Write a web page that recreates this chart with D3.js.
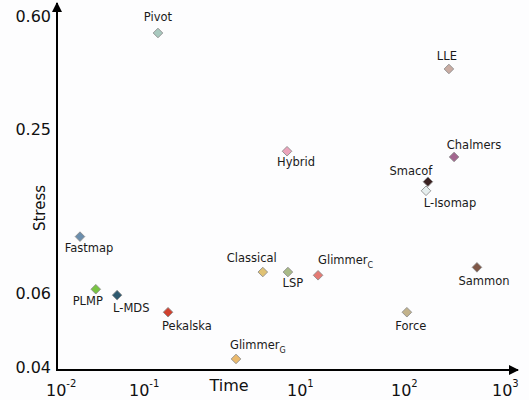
<!DOCTYPE html>
<html>
<head>
<meta charset="utf-8">
<script src="https://cdn.jsdelivr.net/npm/d3@7"></script>
<style>
  html, body { margin: 0; padding: 0; background: #fdfdfe; }
  svg { display: block; font-family: "DejaVu Sans", sans-serif; }
</style>
</head>
<body>
<svg id="chart" width="529" height="400"></svg>
<script>
// Projection techniques: running time (s) vs. stress
const methods = ["Pivot", "LLE", "Hybrid", "Chalmers", "Smacof", "L-Isomap", "Fastmap",
  "Classical", "LSP", "Glimmer_C", "Sammon", "PLMP", "L-MDS", "Pekalska", "Force", "Glimmer_G"];
const times = [0.179, 305, 7.7, 343, 189, 181, 0.020,
  3.8, 7.9, 16.3, 578, 0.031, 0.056, 0.24, 117, 1.74];
const stress = [0.526, 0.398, 0.206, 0.196, 0.158, 0.146, 0.098,
  0.072, 0.072, 0.070, 0.075, 0.062, 0.0593, 0.054, 0.054, 0.0418];

const xTicks = [0.01, 0.1, 10, 100, 1000];
const xTickExp = ["-2", "-1", "1", "2", "3"];
const yTicks = [0.04, 0.06, 0.25, 0.60];
const yTickLabels = ["0.04", "0.06", "0.25", "0.60"];

// marker fill per method
const fills = {
  "Pivot": "#a9c9bf", "LLE": "#c9aca3", "Hybrid": "#eba3bb", "Chalmers": "#a3668f",
  "Smacof": "#3b2222", "L-Isomap": "#e6eeee", "Fastmap": "#6b8ead",
  "Classical": "#e0c274", "LSP": "#a9ba88", "Glimmer_C": "#e47a74", "Sammon": "#7f5747",
  "PLMP": "#79c443", "L-MDS": "#2f5a70", "Pekalska": "#d0412f", "Force": "#c2b28b",
  "Glimmer_G": "#ebba6d"
};
// label placement relative to each marker: [dx, dy, anchor]
const labelPos = {
  "Pivot": [0, -12, "middle"], "LLE": [-2, -9, "middle"], "Hybrid": [9, 15, "middle"],
  "Chalmers": [20, -8, "middle"], "Smacof": [-17, -7, "middle"], "L-Isomap": [24, 16, "middle"],
  "Fastmap": [9, 15, "middle"], "Classical": [-11, -10, "middle"], "LSP": [5, 15, "middle"],
  "Glimmer_C": [0, -11, "start"], "Sammon": [7, 18, "middle"], "PLMP": [-8, 16, "middle"],
  "L-MDS": [-4, 17, "start"], "Pekalska": [-6, 18, "start"], "Force": [4, 18, "middle"],
  "Glimmer_G": [-6, -10, "start"]
};

const svg = d3.select("#chart");

const x = d3.scaleLog().domain(xTicks).range([55, 138, 296, 400, 501]);
const y = d3.scaleLog().domain(yTicks).range([367, 293, 129, 16]);

const x0 = 57, y0 = 370;

// arrow marker for axis ends
svg.append("defs").append("marker")
  .attr("id", "arrow").attr("viewBox", "0 0 10 10")
  .attr("refX", 9).attr("refY", 5)
  .attr("markerWidth", 5).attr("markerHeight", 5)
  .attr("markerUnits", "strokeWidth")
  .attr("orient", "auto")
  .append("path").attr("d", "M0,0 L10,5 L0,10 Z").attr("fill", "#000");

svg.append("line")
  .attr("x1", x0).attr("y1", y0).attr("x2", x0).attr("y2", 3)
  .attr("stroke", "#000").attr("stroke-width", 2).attr("marker-end", "url(#arrow)");
svg.append("line")
  .attr("x1", x0 - 1).attr("y1", y0).attr("x2", 518).attr("y2", y0)
  .attr("stroke", "#000").attr("stroke-width", 2).attr("marker-end", "url(#arrow)");

// y tick labels
svg.selectAll("text.ytick").data(yTicks).join("text")
  .attr("class", "ytick")
  .attr("x", 51).attr("y", d => y(d) + 6)
  .attr("text-anchor", "end").attr("font-size", 16).attr("fill", "#111")
  .text((d, i) => yTickLabels[i]);

// x tick labels: 10 with superscript exponent
const xt = svg.selectAll("text.xtick").data(xTicks).join("text")
  .attr("class", "xtick")
  .attr("x", d => x(d) - 9).attr("y", 396)
  .attr("font-size", 16).attr("fill", "#111");
xt.append("tspan").text("10");
xt.append("tspan").attr("dy", -9).attr("font-size", 10).text((d, i) => xTickExp[i]);

// axis titles
svg.append("text").attr("x", 229).attr("y", 391).attr("text-anchor", "middle")
  .attr("font-size", 16).attr("fill", "#111").text("Time");
svg.append("text").attr("transform", "translate(45,208) rotate(-90)")
  .attr("text-anchor", "middle").attr("font-size", 15).attr("fill", "#111").text("Stress");

// markers
const pts = methods.map((m, i) => ({ name: m, t: times[i], s: stress[i] }));
const diamond = d3.symbol().type(d3.symbolSquare).size(46);

svg.selectAll("path.pt").data(pts).join("path")
  .attr("class", "pt")
  .attr("d", diamond)
  .attr("transform", d => `translate(${x(d.t)},${y(d.s)}) rotate(45)`)
  .attr("fill", d => fills[d.name])
  .attr("stroke", "#8a8a8a").attr("stroke-width", 0.8);

// labels, with subscripts for Glimmer variants
const lab = svg.selectAll("text.lab").data(pts).join("text")
  .attr("class", "lab")
  .attr("x", d => x(d.t) + labelPos[d.name][0])
  .attr("y", d => y(d.s) + labelPos[d.name][1])
  .attr("text-anchor", d => labelPos[d.name][2])
  .attr("font-size", 11.5).attr("fill", "#1a1a1a");
lab.each(function(d) {
  const t = d3.select(this);
  const parts = d.name.split("_");
  t.append("tspan").text(parts[0]);
  if (parts[1]) t.append("tspan").attr("dy", 4).attr("font-size", 8).text(parts[1]);
});
</script>
</body>
</html>
